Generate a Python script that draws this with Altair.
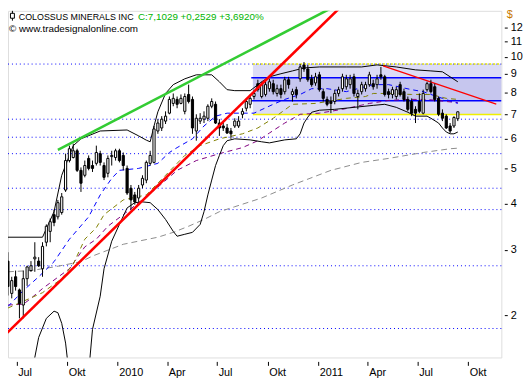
import math
import altair as alt
import pandas as pd

# ---------------- weekly candles (first week 2009-06-15) ----------------
first_week = "2009-06-15"
opens = [2.80, 2.29, 2.54, 2.34, 2.13, 2.51, 2.64, 2.84, 2.80, 2.67,
         3.15, 3.37, 3.74, 3.69, 3.79, 4.36, 5.24, 5.34, 5.57, 4.93,
         4.78, 5.31, 5.08, 5.15, 5.47, 5.08, 4.84, 5.37, 5.34, 5.57,
         5.41, 4.99, 4.41, 4.23, 4.15, 4.50, 4.64, 5.15, 5.18, 6.30,
         6.42, 6.70, 7.04, 7.48, 7.67, 7.48, 7.12, 7.91, 7.67, 6.30,
         6.70, 6.78, 6.82, 7.35, 7.44, 6.62, 6.50, 6.42, 6.30, 6.50,
         6.50, 6.99, 7.26, 7.44, 7.81, 8.46, 7.81, 7.91, 8.20, 8.46,
         7.96, 8.20, 8.05, 8.67, 7.91, 8.15, 8.72, 9.50, 9.27, 8.72,
         8.50, 8.94, 8.05, 7.67, 7.57, 7.57, 7.96, 8.20, 8.30, 8.41,
         8.83, 7.81, 8.05, 8.20, 8.41, 8.46, 8.41, 8.94, 8.83, 8.05,
         7.91, 7.81, 8.41, 8.05, 7.67, 7.57, 7.21, 7.57, 7.04, 8.15,
         8.46, 8.30, 7.72, 7.04, 6.91, 6.50, 6.50, 6.80]
highs = [2.96, 2.54, 2.64, 2.36, 2.64, 2.72, 2.80, 3.15, 2.87, 3.15,
         3.52, 3.65, 3.86, 4.10, 4.28, 5.47, 5.75, 5.82, 5.64, 5.02,
         5.24, 5.41, 5.24, 5.75, 5.57, 5.18, 5.41, 5.57, 5.64, 5.64,
         5.51, 5.08, 4.50, 4.31, 4.50, 4.78, 5.24, 5.57, 6.50, 6.78,
         6.91, 7.12, 7.81, 7.96, 7.81, 7.91, 7.96, 8.41, 7.81, 6.99,
         7.04, 7.12, 7.44, 7.72, 7.57, 6.78, 6.70, 6.58, 6.42, 6.82,
         6.91, 7.26, 7.72, 7.91, 8.15, 8.67, 8.56, 8.56, 8.72, 8.67,
         8.41, 8.41, 8.83, 8.83, 8.20, 8.30, 9.56, 9.68, 9.50, 8.94,
         9.05, 9.11, 8.20, 7.81, 7.81, 8.15, 8.30, 9.00, 8.94, 8.94,
         9.00, 8.15, 8.56, 8.56, 9.11, 8.67, 8.94, 9.39, 8.94, 8.20,
         8.30, 8.30, 8.56, 8.20, 7.81, 7.72, 7.35, 7.96, 8.15, 8.56,
         8.67, 8.46, 7.81, 7.21, 6.99, 6.62, 6.91, 7.12]
lows = [2.26, 2.22, 2.33, 1.96, 1.96, 2.40, 2.62, 2.62, 2.70, 2.54,
        3.07, 3.15, 3.48, 3.63, 3.74, 4.31, 5.18, 5.31, 4.88, 4.31,
        4.72, 4.93, 4.88, 5.08, 5.08, 4.64, 4.72, 5.08, 5.24, 5.18,
        4.93, 4.23, 3.86, 3.98, 4.05, 4.41, 4.55, 5.08, 5.15, 6.19,
        6.30, 6.58, 6.99, 7.35, 7.26, 7.44, 6.99, 7.48, 6.19, 5.93,
        6.58, 6.62, 6.70, 7.26, 6.58, 6.11, 6.30, 6.19, 6.00, 6.42,
        6.42, 6.82, 7.12, 7.26, 7.67, 8.05, 7.72, 7.81, 8.05, 7.91,
        7.81, 7.72, 7.91, 8.20, 7.57, 7.72, 8.56, 9.11, 8.56, 8.30,
        8.35, 8.05, 7.57, 7.35, 7.04, 7.44, 7.81, 8.05, 8.15, 8.20,
        7.81, 7.21, 7.91, 8.05, 8.30, 8.15, 8.20, 8.67, 7.81, 7.72,
        7.72, 7.67, 7.81, 7.57, 7.12, 6.91, 6.62, 7.04, 6.99, 8.05,
        7.96, 7.57, 6.91, 6.70, 6.38, 6.22, 6.42, 6.70]
closes = [2.39, 2.48, 2.39, 2.15, 2.51, 2.70, 2.72, 2.87, 2.72, 3.07,
          3.48, 3.58, 3.56, 4.03, 4.18, 5.24, 5.64, 5.57, 4.93, 4.55,
          5.08, 4.99, 4.99, 5.51, 5.18, 4.72, 5.31, 5.41, 5.57, 5.24,
          5.08, 4.28, 4.10, 4.05, 4.41, 4.69, 5.18, 5.41, 6.38, 6.62,
          6.78, 6.91, 7.67, 7.72, 7.44, 7.72, 7.81, 7.57, 6.42, 6.82,
          6.82, 6.91, 7.35, 7.57, 6.62, 6.42, 6.42, 6.22, 6.19, 6.70,
          6.70, 7.12, 7.57, 7.72, 7.96, 8.15, 8.41, 8.41, 8.56, 8.05,
          8.20, 7.91, 8.67, 8.41, 8.05, 7.91, 9.39, 9.27, 8.67, 8.41,
          8.83, 8.15, 7.72, 7.44, 7.48, 7.96, 8.15, 8.83, 8.72, 8.72,
          7.96, 7.96, 8.41, 8.41, 8.94, 8.30, 8.72, 8.83, 7.91, 7.91,
          8.15, 8.15, 7.91, 7.67, 7.21, 7.04, 7.04, 7.12, 7.96, 8.46,
          8.05, 7.67, 6.99, 6.82, 6.42, 6.30, 6.85, 7.10]

# ---------------- indicator lines (week index, value) ----------------
ma_blue_w = [0, 4, 8, 12, 16, 21, 24, 27, 29, 34, 39, 42, 44, 48, 51, 54, 57, 64, 69, 72, 76, 79, 83, 88, 95, 99, 105, 108, 110, 113, 117]
ma_blue_v = [2.11, 2.33, 2.54, 2.79, 3.21, 3.69, 4.23, 4.69, 4.93, 4.99, 5.15, 5.51, 5.68, 6.00, 6.50, 6.91, 7.04, 7.04, 7.44, 7.67, 7.91, 8.20, 8.20, 8.05, 8.41, 8.41, 8.15, 8.05, 7.91, 7.72, 7.48]
ma_olive_w = [0, 4, 9, 14, 17, 20, 23, 25, 30, 36, 41, 46, 50, 55, 61, 65, 69, 74, 80, 88, 93, 95, 99, 105, 110, 114, 117]
ma_olive_v = [2.09, 2.18, 2.30, 2.51, 2.75, 3.21, 3.45, 3.74, 4.10, 4.23, 4.78, 5.41, 5.75, 6.00, 6.19, 6.42, 6.82, 7.44, 7.48, 7.72, 7.81, 7.96, 7.96, 7.91, 7.91, 7.72, 7.67]
ma_purple_w = [0, 4, 6, 9, 16, 20, 23, 26, 30, 34, 39, 44, 49, 55, 61, 65, 68, 72, 76, 81, 87, 94, 99, 104, 109, 114, 117]
ma_purple_v = [2.13, 2.14, 2.22, 2.36, 2.67, 3.06, 3.21, 3.48, 3.74, 4.03, 4.44, 4.93, 5.24, 5.47, 5.68, 5.93, 6.22, 6.62, 6.99, 7.04, 7.21, 7.48, 7.62, 7.67, 7.67, 7.57, 7.52]
ma_gray_w = [0, 6, 12, 19, 22, 30, 39, 43, 47, 51, 55, 59, 66, 74, 84, 92, 99, 108, 115, 117]
ma_gray_v = [2.62, 2.64, 2.70, 2.79, 2.89, 3.11, 3.25, 3.35, 3.48, 3.63, 3.81, 3.93, 4.15, 4.50, 4.93, 5.18, 5.31, 5.51, 5.64, 5.66]
bb_up_w = [0, 9, 12, 14, 16, 17, 19, 24, 31, 34, 36, 37, 38, 39, 41, 43, 46, 49, 53, 55, 57, 59, 63, 64, 66, 68, 71, 74, 77, 81, 88, 92, 96, 101, 106, 110, 113, 115, 117]
bb_up_v = [3.25, 3.25, 3.81, 4.78, 5.41, 5.75, 6.00, 6.30, 6.34, 6.11, 5.95, 5.89, 6.50, 7.10, 7.96, 8.41, 8.72, 8.94, 8.94, 8.56, 8.15, 8.10, 8.10, 8.25, 8.56, 8.83, 9.00, 9.16, 9.33, 9.39, 9.39, 9.39, 9.51, 9.39, 9.22, 9.16, 9.11, 8.83, 8.56]
bb_lo_w = [0, 5, 8, 10, 12, 13, 14, 15, 16, 18, 20, 21, 22, 24, 25, 27, 29, 31, 33, 35, 37, 39, 41, 43, 44, 46, 48, 50, 51, 52, 53, 54, 55, 56, 57, 59, 63, 66, 68, 72, 75, 76, 77, 78, 79, 81, 85, 90, 95, 98, 101, 104, 106, 109, 110, 112, 113, 114, 115, 116, 117]
bb_lo_v = [1.06, 1.20, 1.74, 1.96, 2.05, 2.03, 1.90, 1.68, 1.36, 1.06, 1.06, 1.40, 1.83, 2.25, 2.67, 3.17, 3.52, 3.90, 4.03, 4.05, 4.03, 3.86, 3.63, 3.37, 3.27, 3.31, 3.35, 3.52, 3.81, 4.23, 4.64, 5.08, 5.41, 5.75, 5.93, 6.00, 5.96, 5.89, 5.85, 5.96, 6.00, 6.19, 6.62, 6.87, 7.08, 7.17, 7.21, 7.30, 7.39, 7.44, 7.30, 7.08, 6.91, 6.91, 6.82, 6.62, 6.42, 6.26, 6.19, 6.19, 6.26]

# ---------------- trend lines, levels, range box ----------------
red_trend_dates = ["2009-06-10", "2011-03-04"]
red_trend_vals = [1.77, 14.65]
green_trend_dates = ["2009-09-14", "2011-03-04"]
green_trend_vals = [5.60, 14.50]
red_thin_dates = ["2011-04-29", "2011-11-21"]
red_thin_vals = [9.45, 7.45]
dotted_levels = [9.56, 6.78, 6.06, 5.47, 4.41, 3.86, 2.72, 1.84]
box_dates = ["2010-09-04", "2011-12-01"]
box_outer = [9.56, 6.98]
box_inner = [8.78, 7.61]
band_line_start = "2010-09-01"

y_ticks = [2, 3, 4, 5, 6, 7, 8, 9, 10, 11, 12]
x_ticks = ["2009-07-01", "2009-10-01", "2010-01-01", "2010-04-01", "2010-07-01",
           "2010-10-01", "2011-01-01", "2011-04-01", "2011-07-01", "2011-10-01"]

title_name = "COLOSSUS MINERALS INC"
title_quote = "C:7,1029 +0,2529 +3,6920%"
copyright_text = "\u00a9 www.tradesignalonline.com"


def ms(s):
    return int(pd.Timestamp(s).value // 10**6)


DAY = 86400000
w0 = ms(first_week)
n = len(opens)
cdates = [w0 + 7 * DAY * i for i in range(n)]

candles = pd.DataFrame({
    "date": cdates, "open": opens, "high": highs, "low": lows, "close": closes,
})
candles["fillc"] = ["white" if c >= o else "black" for o, c in zip(opens, closes)]

def series(weeks, vals):
    return pd.DataFrame({"date": [cdates[w] for w in weeks], "price": vals})

def seg(dates, vals):
    return pd.DataFrame({"date": [ms(d) for d in dates], "price": vals})

# layout of the scales (plot 501 x 352)
jul1 = ms("2009-07-01")
ppd = (479.8 - 11.9) / 822.0
x_lo = jul1 - (11.9 - 8.0) / ppd * DAY
x_hi = jul1 + (509.0 - 11.9) / ppd * DAY
pxln = 292.0 / math.log(6.0)
y_hi = 12 * math.exp(17.0 / pxln)
y_lo = 12 * math.exp(-335.0 / pxln)

xs = alt.Scale(type="utc", domain=[x_lo, x_hi], nice=False)
ys = alt.Scale(type="log", domain=[y_lo, y_hi], nice=False)

FONT = "Liberation Sans"
xaxis = alt.Axis(values=[ms(d) for d in x_ticks],
                 labelExpr="utcmonth(datum.value)==0 ? ''+utcyear(datum.value) : utcmonth(datum.value)==3 ? 'Apr' : utcmonth(datum.value)==6 ? 'Jul' : 'Okt'",
                 title=None, domain=False, grid=False, tickSize=4, tickColor="black",
                 offset=4, labelAlign="left", labelBaseline="top", labelPadding=1,
                 labelOffset=1, labelFont=FONT, labelFontSize=11, labelColor="black",
                 labelFlush=False, labelOverlap=False)
yaxis = alt.Axis(orient="right", values=y_ticks, format="d", title="$", titleAngle=0,
                 titleAlign="left", titleBaseline="alphabetic", titleX=2, titleY=7,
                 titleColor="#c87800", titleFont=FONT, titleFontSize=11,
                 titleFontWeight="normal", domain=False, grid=False, tickSize=3,
                 tickColor="black", offset=3, labelPadding=3, labelFont=FONT,
                 labelFontSize=11, labelColor="black", labelOverlap=False,
                 labelFlush=False)

X = alt.X("date:T", scale=xs, axis=xaxis)
def Y(f):
    return alt.Y(f"{f}:Q", scale=ys, axis=yaxis)

layers = []

# range box
box_o = pd.DataFrame({"date": [ms(box_dates[0])], "date2": [ms(box_dates[1])],
                      "price": [box_outer[0]], "price2": [box_outer[1]]})
box_i = pd.DataFrame({"date": [ms(box_dates[0])], "date2": [ms(box_dates[1])],
                      "price": [box_inner[0]], "price2": [box_inner[1]]})
for d, col in [(box_o, "#dcdcf6"), (box_i, "#c6c6ee")]:
    layers.append(alt.Chart(d).mark_rect(color=col, clip=True).encode(
        x=X, x2="date2:T", y=Y("price"), y2="price2:Q"))

# dotted levels
lev = pd.DataFrame({"price": dotted_levels})
layers.append(alt.Chart(lev).mark_rule(color="#0000ff", strokeDash=[1, 3], strokeWidth=1).encode(
    y=Y("price")))

# box edge lines
def hline(p, col, dash=None, sw=1.5, start=band_line_start):
    d = pd.DataFrame({"date": [ms(start)], "date2": [ms(box_dates[1])], "price": [p]})
    kw = dict(color=col, strokeWidth=sw, clip=True)
    if dash:
        kw["strokeDash"] = dash
    return alt.Chart(d).mark_rule(**kw).encode(x=X, x2="date2:T", y=Y("price"))

layers.append(hline(box_outer[0], "#e8e800", dash=[2, 2], sw=1.5, start=box_dates[0]))
layers.append(hline(box_outer[1], "#f0f000", sw=1.5, start=box_dates[0]))
layers.append(hline(box_inner[0], "#0000ff", sw=1.5))
layers.append(hline(box_inner[1], "#0000ff", sw=1.5))

# moving averages
for w, v, col, dash in [(ma_gray_w, ma_gray_v, "#8c8c8c", [6, 4]),
                        (ma_purple_w, ma_purple_v, "#800080", [5, 4]),
                        (ma_olive_w, ma_olive_v, "#808000", [5, 4]),
                        (ma_blue_w, ma_blue_v, "#0000ff", [5, 4])]:
    layers.append(alt.Chart(series(w, v)).mark_line(color=col, strokeDash=dash, strokeWidth=1, clip=True).encode(
        x=X, y=Y("price")))

# bollinger bands
for w, v in [(bb_up_w, bb_up_v), (bb_lo_w, bb_lo_v)]:
    layers.append(alt.Chart(series(w, v)).mark_line(color="black", strokeWidth=1, clip=True).encode(
        x=X, y=Y("price")))

# thin red resistance
layers.append(alt.Chart(seg(red_thin_dates, red_thin_vals)).mark_line(color="#ff0000", strokeWidth=1.2, clip=True).encode(
    x=X, y=Y("price")))

# candles
layers.append(alt.Chart(candles).mark_rule(color="black", strokeWidth=1, clip=True).encode(
    x=X, y=Y("low"), y2="high:Q"))
layers.append(alt.Chart(candles).mark_bar(size=2.2, stroke="black", strokeWidth=1, clip=True).encode(
    x=X, y=Y("open"), y2="close:Q", fill=alt.Fill("fillc:N", scale=None)))

# trend lines
layers.append(alt.Chart(seg(red_trend_dates, red_trend_vals)).mark_line(color="#ff0000", strokeWidth=2.6, clip=True).encode(
    x=X, y=Y("price")))
layers.append(alt.Chart(seg(green_trend_dates, green_trend_vals)).mark_line(color="#33cc33", strokeWidth=2.6, clip=True).encode(
    x=X, y=Y("price")))

# header texts
txt = pd.DataFrame({"t": [0]})
layers.append(alt.Chart(txt).mark_rule(color="black", strokeWidth=1).encode(
    x=alt.value(4.5), y=alt.value(0), y2=alt.value(10)))
layers.append(alt.Chart(txt).mark_rect(fill="white", stroke="black", strokeWidth=1).encode(
    x=alt.value(2.5), x2=alt.value(6.5), y=alt.value(2.5), y2=alt.value(7.5)))
layers.append(alt.Chart(txt).mark_text(text=title_name, align="left", baseline="alphabetic",
                                       font=FONT, fontSize=9, color="black").encode(
    x=alt.value(11), y=alt.value(9)))
layers.append(alt.Chart(txt).mark_text(text=title_quote, align="left", baseline="alphabetic",
                                       font=FONT, fontSize=10, color="#00b400").encode(
    x=alt.value(132), y=alt.value(9)))
layers.append(alt.Chart(txt).mark_text(text=copyright_text, align="left", baseline="alphabetic",
                                       font=FONT, fontSize=10, color="black").encode(
    x=alt.value(1), y=alt.value(21)))

chart = alt.layer(*layers).properties(
    width=501, height=352,
    autosize=alt.AutoSizeParams(type="none"),
    padding={"left": 0, "top": 0, "right": 23, "bottom": 20},
).configure_view(fill="#f5f5f5", stroke="black", strokeWidth=1).configure(background="white")

chart.save("out.html", embed_options={"renderer": "svg", "actions": False})
